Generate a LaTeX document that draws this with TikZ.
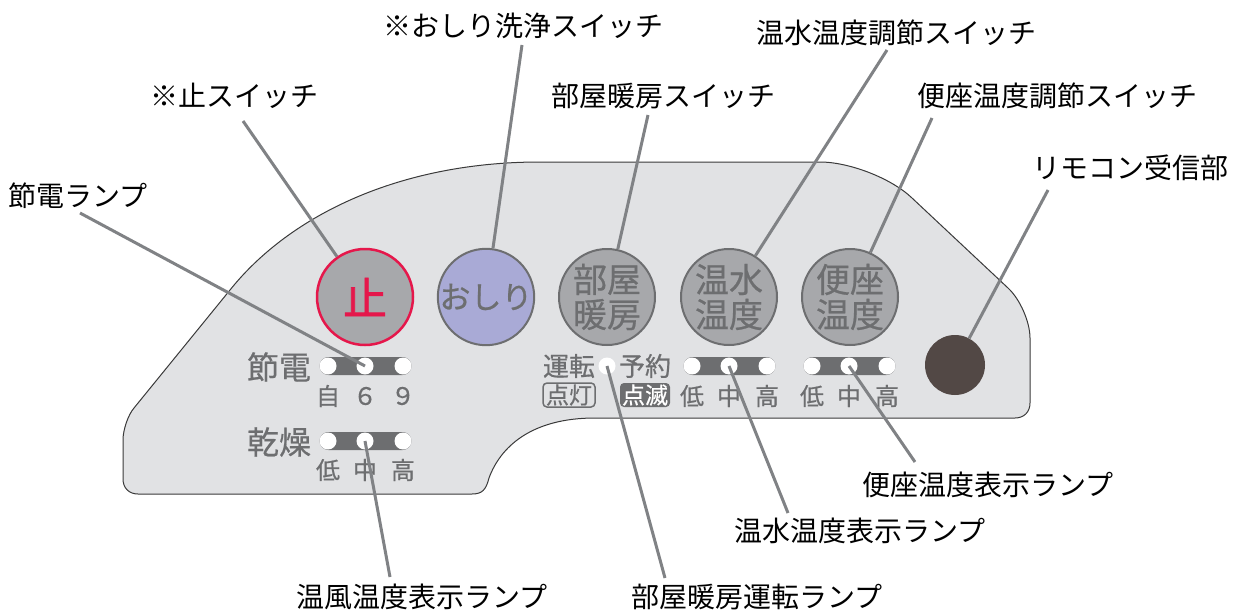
\documentclass[tikz,border=0pt]{standalone}
\usepackage{fontspec}
\setmainfont{Noto Sans CJK JP}
\newfontfamily\medfont[FakeBold=0.6]{Noto Sans CJK JP}
\newfontfamily\heavyfont[FakeBold=1.6]{Noto Sans CJK JP}
\definecolor{panelfill}{HTML}{E1E2E4}
\definecolor{panelline}{HTML}{3A3A3A}
\definecolor{btnfill}{HTML}{A7A8AB}
\definecolor{dgray}{HTML}{6D6E70}
\definecolor{leader}{HTML}{808285}
\definecolor{stopred}{HTML}{E5174B}
\definecolor{lilac}{HTML}{A9AAD6}
\definecolor{remote}{HTML}{524845}
\begin{document}
\begin{tikzpicture}[x=1pt,y=-1pt,
  lab/.style={font=\fontsize{28}{30}\selectfont, text=black, inner sep=0pt},
  btn/.style={circle, minimum size=96pt, inner sep=0pt, fill=btnfill, draw=dgray, line width=2pt, text=dgray, font=\medfont\fontsize{34}{35}\selectfont, align=center},
  lampbar/.style={rectangle, rounded corners=9pt, fill=dgray, minimum width=92pt, minimum height=18pt, inner sep=0pt},
  lampdot/.style={circle, fill=white, minimum size=17pt, inner sep=0pt},
  pl/.style={text=dgray, inner sep=0pt, font=\medfont\fontsize{32}{33}\selectfont},
  ps/.style={text=dgray, inner sep=0pt, font=\medfont\fontsize{24}{26}\selectfont},
  leaderline/.style={draw=leader, line width=3pt},
]
\useasboundingbox (0,0) rectangle (1236,610);
% panel
\path[fill=panelfill, draw=panelline, line width=1pt]
  (123,440) .. controls (123,430) and (128,415) .. (134,408)
  -- (230,290) .. controls (290,215) and (400,162) .. (540,162)
  -- (820,162) .. controls (849,162) and (891,178) .. (912,198)
  -- (1008,288) .. controls (1020,299) and (1030,322) .. (1030,338)
  -- (1030,403) .. controls (1030,412) and (1024,418) .. (1015,418)
  -- (595,418) .. controls (530,418) and (500,448) .. (489,478)
  .. controls (486,490) and (482,494) .. (472,494)
  -- (138,494) .. controls (129,494) and (123,488) .. (123,479) -- cycle;
% buttons
\node[btn, draw=stopred, line width=2.5pt, text=stopred, font=\heavyfont\fontsize{44}{44}\selectfont] (stop) at (365,297) {止};
\node[btn, fill=lilac, font=\medfont\fontsize{31}{32}\selectfont] (oshiri) at (486,297) {おしり};
\node[btn] (heya) at (607,297) {部屋\\暖房};
\node[btn] (onsui) at (729,297) {温水\\温度};
\node[btn] (benza) at (850,297) {便座\\温度};
\node[circle, fill=remote, minimum size=60pt, inner sep=0pt] (rx) at (955,365) {};
% lamps
\node[lampbar] (barS) at (365.5,366) {};
\node[lampdot] (s1) at (328,366) {};
\node[lampdot] (s2) at (365,366) {};
\node[lampdot] (s3) at (403,366) {};
\node[lampbar] (barK) at (365.5,441) {};
\node[lampdot] (k1) at (328,441) {};
\node[lampdot] (k2) at (365,441) {};
\node[lampdot] (k3) at (403,441) {};
\node[lampbar] (barO) at (729.5,366) {};
\node[lampdot] (o1) at (692,366) {};
\node[lampdot] (o2) at (729,366) {};
\node[lampdot] (o3) at (767,366) {};
\node[lampbar] (barB) at (849.5,366) {};
\node[lampdot] (b1) at (812,366) {};
\node[lampdot] (b2) at (849,366) {};
\node[lampdot] (b3) at (887,366) {};
\node[lampdot] (hd) at (607,366) {};
% panel texts
\node[pl] (tS) at (279,367) {節電};
\node[pl] (tK) at (279,442) {乾燥};
\node[ps] at (328,396) {自};
\node[ps] at (365,396) {６};
\node[ps] at (403,396) {９};
\node[ps] at (328,470) {低};
\node[ps] at (365,470) {中};
\node[ps] at (403,470) {高};
\node[ps] at (692,396) {低};
\node[ps] at (729,396) {中};
\node[ps] at (767,396) {高};
\node[ps] at (812,396) {低};
\node[ps] at (849,396) {中};
\node[ps] at (887,396) {高};
\node[ps, font=\medfont\fontsize{26}{28}\selectfont] at (569,366) {運転};
\node[ps, font=\medfont\fontsize{26}{28}\selectfont] at (645,366) {予約};
\node[draw=dgray, line width=1.5pt, rounded corners=4pt, minimum width=52pt, minimum height=24pt, inner sep=0pt, text=dgray, font=\medfont\fontsize{23}{24}\selectfont] at (569,395) {点灯};
\node[fill=dgray, rounded corners=4pt, minimum width=50pt, minimum height=24pt, inner sep=0pt, text=white, font=\medfont\fontsize{23}{24}\selectfont] at (645,395) {点滅};
% callout labels
\node[lab] (Loshiri) at (523,26) {※おしり洗浄スイッチ};
\node[lab] (Lstop) at (234,96) {※止スイッチ};
\node[lab] (Lheya) at (663,96) {部屋暖房スイッチ};
\node[lab] (Lonsui) at (896,33) {温水温度調節スイッチ};
\node[lab] (Lbenza) at (1057,96) {便座温度調節スイッチ};
\node[lab] (Lrx) at (1130,168) {リモコン受信部};
\node[lab] (Lsetsu) at (78,196) {節電ランプ};
\node[lab] (Lbl) at (988,485) {便座温度表示ランプ};
\node[lab] (Lol) at (860,531) {温水温度表示ランプ};
\node[lab] (Lkl) at (422,597) {温風温度表示ランプ};
\node[lab] (Lhl) at (757,597) {部屋暖房運転ランプ};
% leader ends
\coordinate (cstop) at (243,121);
\coordinate (coshiri) at (522,45);
\coordinate (cheya) at (648,115);
\coordinate (conusi) at (887,50);
\coordinate (cbenza) at (932,118);
\coordinate (crx) at (1048,190);
\coordinate (csetsu) at (80,213);
\coordinate (ckl) at (390,577);
\coordinate (chl) at (665,578);
\coordinate (col) at (788,513);
\coordinate (cbl) at (915,462);
% leaders
\draw[leaderline] (cstop) -- (stop);
\draw[leaderline] (coshiri) -- (oshiri);
\draw[leaderline] (cheya) -- (heya);
\draw[leaderline] (conusi) -- (onsui);
\draw[leaderline] (cbenza) -- (benza);
\draw[leaderline] (crx) -- (rx);
\draw[leaderline] (csetsu) -- (s2.center);
\draw[leaderline] (ckl) -- (k2.center);
\draw[leaderline] (chl) -- (hd.center);
\draw[leaderline] (col) -- (o2.center);
\draw[leaderline] (cbl) -- (b2.center);
\end{tikzpicture}
\end{document}
